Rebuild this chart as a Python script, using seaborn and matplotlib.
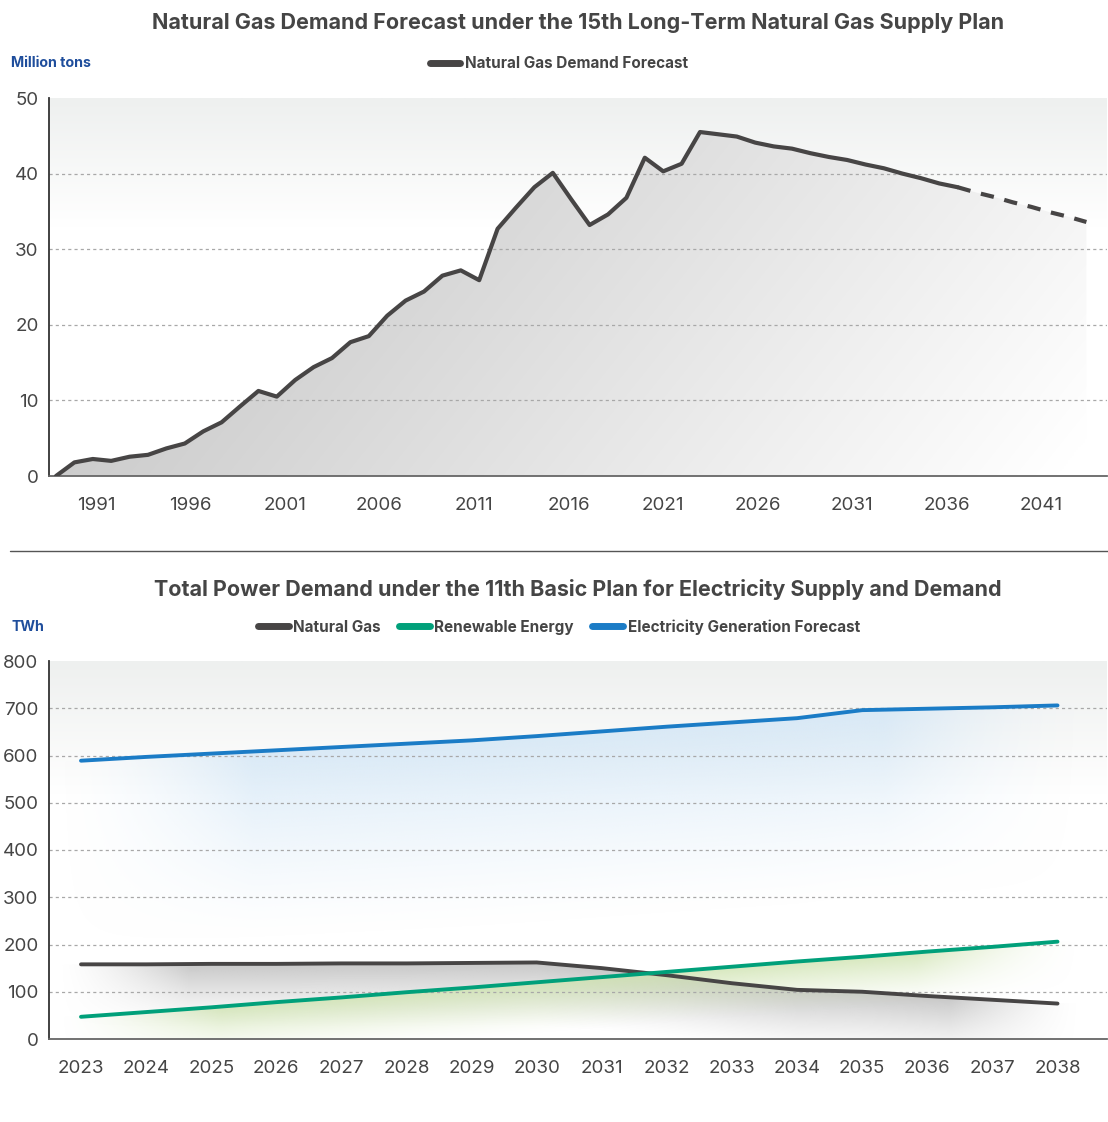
import matplotlib
matplotlib.use("Agg")
import matplotlib.pyplot as plt
from matplotlib.lines import Line2D
from matplotlib.colors import to_rgb
import numpy as np
import pandas as pd
import seaborn as sns

# ---- data: natural gas demand (million tons) ----
gas_years = list(range(1989, 2046))
gas_demand = [0.0, 1.8, 2.25, 2.0, 2.55, 2.8, 3.65, 4.3, 5.9, 7.1,
              9.2, 11.25, 10.5, 12.7, 14.4, 15.6, 17.7, 18.5, 21.2, 23.2,
              24.4, 26.5, 27.2, 25.9, 32.7, 35.5, 38.2, 40.1, 36.6, 33.2,
              34.6, 36.8, 42.1, 40.3, 41.3, 45.5, 45.2, 44.9, 44.1, 43.6,
              43.3, 42.7, 42.2, 41.8, 41.2, 40.7, 40.0, 39.4, 38.7, 38.2,
              37.5, 36.9, 36.2, 35.6, 34.9, 34.3, 33.6]
gas_solid_end = 2038          # last year of the solid part, dashed afterwards
gas_tick_labels = ['1991', '1996', '2001', '2006', '2011', '2016',
                   '2021', '2026', '2031', '2036', '2041']

# ---- data: power demand (TWh) ----
power_years = list(range(2023, 2039))
natural_gas = [158, 158, 159, 159, 160, 160, 161, 162,
               150, 135, 118, 104, 100, 91, 83, 75]
renewable = [47, 57, 67, 78, 88, 99, 109, 120,
             131, 142, 153, 164, 174, 185, 195, 206]
electricity = [589, 597, 604, 611, 618, 625, 632, 641,
               651, 661, 670, 679, 696, 699, 702, 706]

DARK = '#474545'
GREEN = '#00a07a'
BLUE = '#1b7cc6'
NAVY = '#1f4e9c'
TXT = '#454545'

sns.set_theme(style='white')
plt.rcParams['font.family'] = ['Inter', 'DejaVu Sans']

fig = plt.figure(figsize=(11.08, 11.22), dpi=100)
W, H = 1108, 1122


def box(x0, y0, x1, y1):
    return [x0 / W, 1 - y1 / H, (x1 - x0) / W, (y1 - y0) / H]


def bg_gradient(ax, top_rgb, fade_to):
    # vertical gradient, light grey at top going white
    x0, x1 = ax.get_xlim()
    y0, y1 = ax.get_ylim()
    ys = np.linspace(y1, y0, 300)
    t = np.clip((ys - fade_to) / (y1 - fade_to), 0, 1)[:, None]
    c = np.array(to_rgb(top_rgb))
    img = (1 - t[..., None]) * np.ones(3) + t[..., None] * c
    img = np.repeat(img, 2, axis=1)
    ax.imshow(img, extent=[x0, x1, y0, y1], aspect='auto', zorder=0,
              interpolation='bilinear')


def glow(ax, xs, ys, color, depth, amax, fade_x):
    # soft tinted band that fades out below a line
    x0, x1 = ax.get_xlim()
    y0, y1 = ax.get_ylim()
    gx = np.linspace(x0, x1, 600)
    gy = np.linspace(y1, y0, 400)
    X, Y = np.meshgrid(gx, gy)
    line = np.interp(X, xs, ys)
    d = (line - Y) / depth
    a = np.where(d >= 0, np.clip(1 - d, 0, 1) ** 1.3, 0)
    edge = np.minimum(X - xs[0], xs[-1] - X)
    a = a * np.clip((edge + 0.35) / fade_x, 0, 1) ** 1.5
    img = np.zeros(X.shape + (4,))
    img[..., :3] = to_rgb(color)
    img[..., 3] = a * amax
    ax.imshow(img, extent=[x0, x1, y0, y1], aspect='auto', zorder=1,
              interpolation='bilinear')


def style_axes(ax):
    for s in ['top', 'right']:
        ax.spines[s].set_visible(False)
    ax.spines['left'].set_color('#333333')
    ax.spines['left'].set_linewidth(1.3)
    ax.spines['bottom'].set_color('#666666')
    ax.spines['bottom'].set_linewidth(1.3)
    ax.tick_params(axis='both', length=0, labelsize=13.5, colors=TXT)
    ax.tick_params(axis='y', pad=7.5)
    ax.tick_params(axis='x', pad=15)
    ax.set_xlabel('')
    ax.set_ylabel('')


# =================== top chart ===================
ax1 = fig.add_axes(box(49, 98, 1107, 476))
px_per_year = 18.4
ax1.set_xlim(1989 + (49 - 56) / px_per_year, 1989 + (1107 - 56) / px_per_year)
ax1.set_ylim(0, 50)
bg_gradient(ax1, '#eef0ef', 33)

gx = np.array(gas_years, dtype=float)
gy = np.array(gas_demand)
poly = ax1.fill_between(gx, gy, 0, color='none', zorder=1)
xs = np.linspace(0, 1, 500)
ysg = np.linspace(1, 0, 200)
U, V = np.meshgrid(xs, ysg)
light = 0.80 + 0.20 * np.clip(1.05 * U - 0.3 * V, 0, 1)
fill_img = np.dstack([light, light, light])
im = ax1.imshow(fill_img, extent=[*ax1.get_xlim(), 0, 50], aspect='auto',
                zorder=1, interpolation='bilinear')
im.set_clip_path(poly.get_paths()[0], transform=ax1.transData)

solid = pd.DataFrame({'year': gx, 'v': gy})
sns.lineplot(data=solid[solid.year <= gas_solid_end], x='year', y='v', ax=ax1,
             color=DARK, lw=3.0, zorder=3)
sns.lineplot(data=solid[solid.year >= gas_solid_end], x='year', y='v', ax=ax1,
             color=DARK, lw=3.0, zorder=3, linestyle=(0, (3.2, 2.6)))

ax1.set_yticks([0, 10, 20, 30, 40, 50])
for v in [10, 20, 30, 40]:
    ax1.axhline(v, color='#a8a8a8', lw=0.9, ls=(0, (2.5, 2.5)), zorder=2)
label_px = [96 + 94.5 * k for k in range(len(gas_tick_labels))]
ax1.set_xticks([1989 + (p - 56) / px_per_year for p in label_px])
ax1.set_xticklabels(gas_tick_labels)
style_axes(ax1)

fig.text(578 / W, 1 - 23 / H,
         'Natural Gas Demand Forecast under the 15th Long-Term Natural Gas Supply Plan',
         ha='center', va='center', fontsize=15.5, fontweight='bold', color=TXT)
fig.text(11 / W, 1 - 63 / H, 'Million tons', ha='left', va='center',
         fontsize=10.2, fontweight='bold', color=NAVY)
fig.legend(handles=[Line2D([], [], color=DARK, lw=5)],
           labels=['Natural Gas Demand Forecast'],
           loc='center', bbox_to_anchor=(559 / W, 1 - 64 / H), frameon=False,
           handlelength=2.0, handletextpad=0.3,
           prop={'weight': 'bold', 'size': 11}, labelcolor=TXT)

# separator
fig.add_artist(Line2D([10 / W, 1108 / W], [1 - 551 / H, 1 - 551 / H],
                      color='#555555', lw=1.0, transform=fig.transFigure))

# =================== bottom chart ===================
ax2 = fig.add_axes(box(49, 661, 1107, 1039))
px_step = 65.1
ax2.set_xlim(2023 + (49 - 81) / px_step, 2023 + (1107 - 81) / px_step)
ax2.set_ylim(0, 800)
bg_gradient(ax2, '#eef0ef', 520)

px = np.array(power_years, dtype=float)
glow(ax2, px, np.array(electricity, float), '#d2e6f6', 400, 0.8, 3.0)
glow(ax2, px, np.array(natural_gas, float), '#c4c4c4', 135, 0.95, 2.0)
glow(ax2, px, np.array(renewable, float), '#d0e4b2', 110, 0.85, 2.5)

df = pd.DataFrame({
    'year': power_years * 3,
    'value': natural_gas + renewable + electricity,
    'series': ['Natural Gas'] * 16 + ['Renewable Energy'] * 16
              + ['Electricity Generation Forecast'] * 16,
})
sns.lineplot(data=df, x='year', y='value', hue='series',
             palette={'Natural Gas': DARK, 'Renewable Energy': GREEN,
                      'Electricity Generation Forecast': BLUE},
             lw=2.8, ax=ax2, legend=False, zorder=3)
for v in range(100, 800, 100):
    ax2.axhline(v, color='#a8a8a8', lw=0.9, ls=(0, (2.5, 2.5)), zorder=2)
ax2.set_yticks(range(0, 900, 100))
ax2.set_xticks(power_years)
ax2.set_xticklabels([str(y) for y in power_years])
style_axes(ax2)

fig.text(578 / W, 1 - 590 / H,
         'Total Power Demand under the 11th Basic Plan for Electricity Supply and Demand',
         ha='center', va='center', fontsize=15.5, fontweight='bold', color=TXT)
fig.text(11 / W, 1 - 627 / H, 'TWh', ha='left', va='center',
         fontsize=10.2, fontweight='bold', color=NAVY)
fig.legend(handles=[Line2D([], [], color=c, lw=5) for c in [DARK, GREEN, BLUE]],
           labels=['Natural Gas', 'Renewable Energy', 'Electricity Generation Forecast'],
           loc='center', bbox_to_anchor=(559 / W, 1 - 627 / H), frameon=False,
           ncol=3, handlelength=2.0, handletextpad=0.3, columnspacing=1.2,
           prop={'weight': 'bold', 'size': 11}, labelcolor=TXT)

fig.savefig('out.png', dpi=100)
